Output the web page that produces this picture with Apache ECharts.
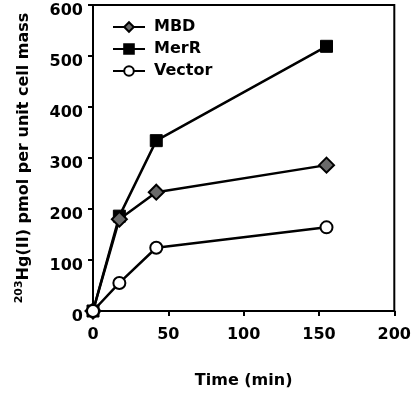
<!DOCTYPE html>
<html>
<head>
<meta charset="utf-8">
<script src="https://cdn.jsdelivr.net/npm/echarts@6/dist/echarts.min.js"></script>
<style>
  html, body { margin: 0; padding: 0; background: #fff; }
  #chart { width: 414px; height: 394px; }
</style>
</head>
<body>
<div id="chart"></div>
<script>
// time points (min) and uptake values
const times = [0, 17.5, 42, 155]
const mbd = [0, 180, 233, 286]
const merR = [0, 186, 334, 519]
const vector = [0, 55, 124, 164]
const xTicks = [0, 50, 100, 150, 200]
const yTicks = [0, 100, 200, 300, 400, 500, 600]

const font = `'DejaVu Sans', 'Liberation Sans', Arial, sans-serif`

function pairs (ys) {
  return times.map((t, i) => [t, ys[i]])
}

const chart = echarts.init(document.getElementById('chart'))

const option = {
  animation: false,
  backgroundColor: '#fff',
  grid: {
    left: 93,
    right: 17,
    top: 5,
    bottom: 82,
    show: true,
    borderColor: '#000',
    borderWidth: 2
  },
  legend: {
    left: 107,
    top: 14,
    orient: 'vertical',
    itemWidth: 32,
    itemHeight: 12,
    itemGap: 6,
    textStyle: {
      color: '#000',
      fontSize: 16,
      fontWeight: 'bold',
      fontFamily: font,
      padding: [0, 0, 0, 4]
    },
    data: ['MBD', 'MerR', 'Vector']
  },
  xAxis: {
    type: 'value',
    min: xTicks[0],
    max: xTicks[xTicks.length - 1],
    interval: 50,
    name: 'Time (min)',
    nameLocation: 'middle',
    nameGap: 62,
    nameTextStyle: {
      color: '#000',
      fontSize: 16,
      fontWeight: 'bold',
      fontFamily: font
    },
    axisLine: { lineStyle: { color: '#000', width: 2 } },
    axisTick: { show: true, length: 5, lineStyle: { color: '#000', width: 2 } },
    axisLabel: {
      margin: 16,
      color: '#000',
      fontSize: 16,
      fontWeight: 'bold',
      fontFamily: font
    },
    splitLine: { show: false }
  },
  yAxis: {
    type: 'value',
    min: yTicks[0],
    max: yTicks[yTicks.length - 1],
    interval: 100,
    name: '{sup|203}{main|Hg(II) pmol per unit cell mass}',
    nameLocation: 'middle',
    nameGap: 60,
    nameTextStyle: {
      color: '#000',
      fontWeight: 'bold',
      fontFamily: font,
      rich: {
        sup: { fontSize: 11, fontWeight: 'bold', fontFamily: font, color: '#000', verticalAlign: 'top', padding: [0, 0, 8, 0] },
        main: { fontSize: 16, fontWeight: 'bold', fontFamily: font, color: '#000' }
      }
    },
    axisLine: { show: true, lineStyle: { color: '#000', width: 2 } },
    axisTick: { show: true, length: 5, lineStyle: { color: '#000', width: 2 } },
    axisLabel: {
      margin: 10,
      color: '#000',
      fontSize: 16,
      fontWeight: 'bold',
      fontFamily: font,
      verticalAlign: 'top',
      lineHeight: 12
    },
    splitLine: { show: false }
  },
  series: [
    {
      name: 'MBD',
      type: 'line',
      symbol: 'diamond',
      symbolSize: 15,
      lineStyle: { color: '#000', width: 2.5 },
      itemStyle: { color: '#6a6a6a', borderColor: '#000', borderWidth: 2 },
      data: pairs(mbd),
      z: 3
    },
    {
      name: 'MerR',
      type: 'line',
      symbol: 'rect',
      symbolSize: 12,
      lineStyle: { color: '#000', width: 2.5 },
      itemStyle: { color: '#000', borderColor: '#000', borderWidth: 1 },
      data: pairs(merR),
      z: 2
    },
    {
      name: 'Vector',
      type: 'line',
      symbol: 'circle',
      symbolSize: 12,
      showAllSymbol: true,
      lineStyle: { color: '#000', width: 2.5 },
      itemStyle: { color: '#fff', borderColor: '#000', borderWidth: 2 },
      data: pairs(vector),
      z: 4
    }
  ]
}

chart.setOption(option)
</script>
</body>
</html>
